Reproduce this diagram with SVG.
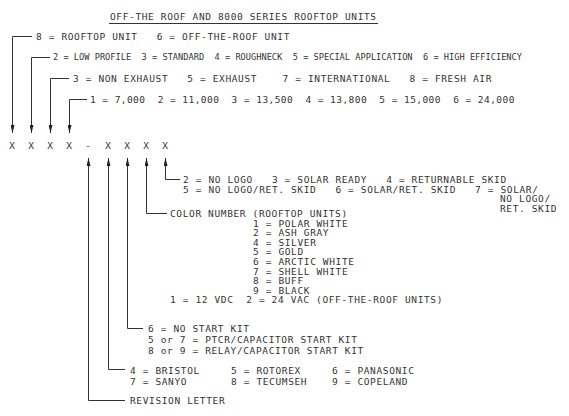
<svg xmlns="http://www.w3.org/2000/svg" width="569" height="416" viewBox="0 0 569 416">
<style>
text{font-family:"DejaVu Sans Mono","Liberation Mono",monospace;font-size:9.5px;letter-spacing:0.63px;fill:#333;white-space:pre}
.n{font-size:8.65px;letter-spacing:0}
.c{fill:none;stroke:#333;stroke-width:1}
</style>
<defs>
<marker id="arr" viewBox="0 0 8 4" refX="8" refY="2" markerWidth="8" markerHeight="4" markerUnits="userSpaceOnUse" orient="auto">
<path d="M0,0 L8,2 L0,4 Z" fill="#222"/>
</marker>
</defs>
<rect width="569" height="416" fill="#fff"/>
<g id="title">
<text x="110" y="19.5">OFF-THE ROOF AND 8000 SERIES ROOFTOP UNITS</text>
<line x1="109" y1="23.5" x2="378" y2="23.5" class="c"/>
</g>
<g id="code">
<text x="12.5" y="148.5" text-anchor="middle">X</text>
<text x="31.5" y="148.5" text-anchor="middle">X</text>
<text x="50.5" y="148.5" text-anchor="middle">X</text>
<text x="69.5" y="148.5" text-anchor="middle">X</text>
<text x="88.5" y="148.5" text-anchor="middle">-</text>
<text x="108.5" y="148.5" text-anchor="middle">X</text>
<text x="127.5" y="148.5" text-anchor="middle">X</text>
<text x="146.5" y="148.5" text-anchor="middle">X</text>
<text x="165.5" y="148.5" text-anchor="middle">X</text>
</g>
<g id="unit-type">
<text x="36" y="39.5">8 = ROOFTOP UNIT   6 = OFF-THE-ROOF UNIT</text>
</g>
<g id="model">
<text class="n" x="53" y="60.2" textLength="469">2 = LOW PROFILE  3 = STANDARD  4 = ROUGHNECK  5 = SPECIAL APPLICATION  6 = HIGH EFFICIENCY</text>
</g>
<g id="exhaust">
<text x="73" y="81.5">3 = NON EXHAUST   5 = EXHAUST    7 = INTERNATIONAL   8 = FRESH AIR</text>
</g>
<g id="capacity">
<text x="90" y="102.5" textLength="425">1 = 7,000  2 = 11,000  3 = 13,500  4 = 13,800  5 = 15,000  6 = 24,000</text>
</g>
<g id="logo">
<text x="183" y="183">2 = NO LOGO   3 = SOLAR READY   4 = RETURNABLE SKID</text>
<text x="183" y="192.5">5 = NO LOGO/RET. SKID   6 = SOLAR/RET. SKID   7 = SOLAR/</text>
<text x="500" y="202">NO LOGO/</text>
<text x="500" y="211.5">RET. SKID</text>
</g>
<g id="color">
<text x="170" y="216.5">COLOR NUMBER (ROOFTOP UNITS)</text>
<text x="253" y="226.5">1 = POLAR WHITE</text>
<text x="253" y="236.1">2 = ASH GRAY</text>
<text x="253" y="245.7">4 = SILVER</text>
<text x="253" y="255.3">5 = GOLD</text>
<text x="253" y="264.9">6 = ARCTIC WHITE</text>
<text x="253" y="274.5">7 = SHELL WHITE</text>
<text x="253" y="284.1">8 = BUFF</text>
<text x="253" y="293.7">9 = BLACK</text>
<text x="170" y="303.3">1 = 12 VDC  2 = 24 VAC (OFF-THE-ROOF UNITS)</text>
</g>
<g id="start-kit">
<text x="148" y="331.5">6 = NO START KIT</text>
<text x="148" y="342.5">5 or 7 = PTCR/CAPACITOR START KIT</text>
<text x="148" y="353.5">8 or 9 = RELAY/CAPACITOR START KIT</text>
</g>
<g id="compressor">
<text x="130" y="373.5">4 = BRISTOL</text>
<text x="231" y="373.5">5 = ROTOREX</text>
<text x="332" y="373.5">6 = PANASONIC</text>
<text x="130" y="384.5">7 = SANYO</text>
<text x="231" y="384.5">8 = TECUMSEH</text>
<text x="332" y="384.5">9 = COPELAND</text>
</g>
<g id="revision">
<text x="130" y="403.5">REVISION LETTER</text>
</g>
<g id="connectors" class="c">
<path class="c" d="M32,36.5 H12.5 V133" marker-end="url(#arr)"/>
<path class="c" d="M50,57.5 H31.5 V133" marker-end="url(#arr)"/>
<path class="c" d="M69,78.5 H50.5 V133" marker-end="url(#arr)"/>
<path class="c" d="M87,99.5 H69.5 V133" marker-end="url(#arr)"/>
<path class="c" d="M180,179.5 H165.5 V158" marker-end="url(#arr)"/>
<path class="c" d="M167,213.5 H146.5 V158" marker-end="url(#arr)"/>
<path class="c" d="M143,328.5 H127.5 V158" marker-end="url(#arr)"/>
<path class="c" d="M125,369.5 H108.5 V158" marker-end="url(#arr)"/>
<path class="c" d="M125,400.5 H88.5 V158" marker-end="url(#arr)"/>
</g>
</svg>
